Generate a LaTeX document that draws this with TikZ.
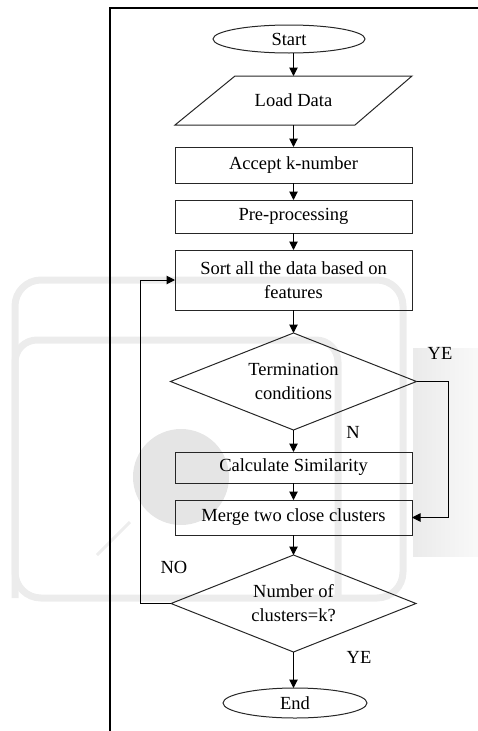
\documentclass[tikz,border=0pt]{standalone}
\usepackage{fontspec}
\setmainfont{Liberation Serif}
\usetikzlibrary{arrows.meta,calc,shapes.geometric}
\begin{document}
\begin{tikzpicture}[x=1pt,y=-1pt,
  font=\fontsize{18.5}{24}\selectfont,
  every node/.style={inner sep=0pt, outer sep=0pt},
  shapeline/.style={draw=black!85, line width=1pt},
  procbox/.style={shapeline, minimum width=237pt, align=center},
  termnode/.style={shapeline, ellipse},
  decis/.style={minimum width=246pt, minimum height=97pt, align=center},
  conn/.style={draw=black, line width=1pt, -{Triangle[length=8.5pt,width=8.5pt]}},
  wm/.style={draw=gray!15, line width=7pt},
  lbl/.style={}
]
\useasboundingbox (0,0) rectangle (478,731);

% faint watermark in the background
\shade[left color=gray!16, right color=gray!5] (413,348) rectangle (478,556);
\draw[wm, rounded corners=26pt] (15,280) rectangle (403,598);
\draw[wm, rounded corners=22pt] (338,598) -- (338,340) -- (15,340) -- (15,598);
\fill[gray!20] (181,477) circle (48pt);
\draw[draw=gray!14, line width=3pt] (97,555) -- (130,522);

% frame lines
\draw[line width=1.6pt] (478,8) -- (110,8) -- (110,731);

% nodes
\node[termnode, minimum width=152pt, minimum height=28pt] (start) at (289,39) {Start};
\node[minimum width=237pt, minimum height=49pt] (load) at (293.5,100.5) {Load Data};
\draw[shapeline] ([xshift=60pt]load.north west) -- (load.north east)
  -- ([xshift=-57pt]load.south east) -- (load.south west) -- cycle;
\node[procbox, minimum height=36pt] (accept) at (293.5,165) {Accept k-number};
\node[procbox, minimum height=33pt] (pre) at (293.5,216.5) {Pre-processing};
\node[procbox, minimum height=60pt] (sort) at (293.5,280) {Sort all the data based on\\features};
\node[decis] (term) at (293.5,381.5) {Termination\\conditions};
\draw[shapeline] (term.north) -- (term.east) -- (term.south) -- (term.west) -- cycle;
\node[procbox, minimum height=31pt] (calc) at (293.5,467.5) {Calculate Similarity};
\node[procbox, minimum height=35pt] (merge) at (293.5,517.5) {Merge two close clusters};
\node[decis, minimum width=245pt] (num) at (293.5,603.5) {Number of\\clusters=k?};
\draw[shapeline] (num.north) -- (num.east) -- (num.south) -- (num.west) -- cycle;
\node[termnode, minimum width=144pt, minimum height=30pt] (end) at (295,703) {End};

% labels
\node[lbl] (ye1) at (440,353) {YE};
\node[lbl] (n1) at (353,432) {N};
\node[lbl] (no1) at (174,567) {NO};
\node[lbl] (ye2) at (359,657) {YE};

% connectors
\draw[conn] (load.north |- start.south) -- (load.north);
\draw[conn] (load.south) -- (accept.north);
\draw[conn] (accept.south) -- (pre.north);
\draw[conn] (pre.south) -- (sort.north);
\draw[conn] (sort.south) -- (term.north);
\draw[conn] (term.south) -- (calc.north);
\draw[conn] (calc.south) -- (merge.north);
\draw[conn] (merge.south) -- (num.north);
\draw[conn] (num.south) -- (num.south |- end.north);
\draw[conn] (term.east) -- ++(32,0) |- (merge.east);
\draw[conn] (num.west) -- ++(-31,0) |- (sort.west);
\end{tikzpicture}
\end{document}
